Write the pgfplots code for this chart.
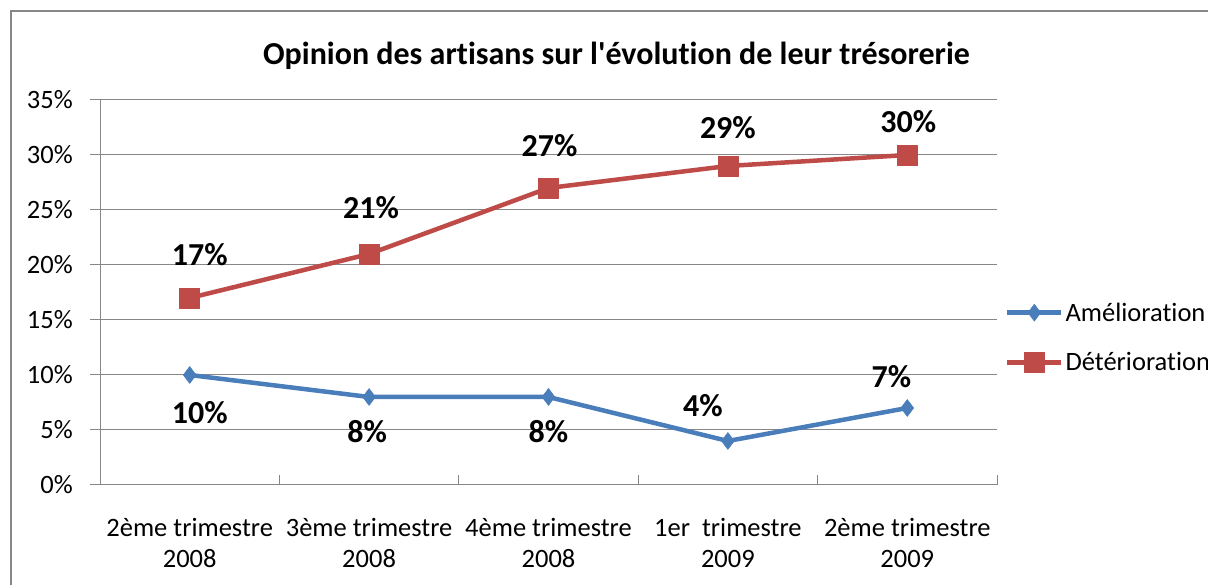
\documentclass[border=0pt]{standalone}
\usepackage{pgfplots}
\usepackage{pgfplotstable}
\pgfplotsset{compat=1.18}
\usepackage{fontspec}
\setmainfont[RawFeature={-liga;-calt;-clig}]{Carlito}
\definecolor{ablue}{HTML}{4A7EBB}
\definecolor{ared}{HTML}{BE4B48}
\definecolor{lgray}{HTML}{878787}

\pgfplotstableread{
x y dx dy
1 10 10 -38
2 8 -2 -35
3 8 0 -35
4 4 -25 35
5 7 -16 31
}\ameltab

\pgfplotstableread{
x y dx dy
1 17 10 43
2 21 2 46
3 27 1 42
4 29 0 38
5 30 1 33
}\dettab

\begin{document}
\begin{tikzpicture}[x=1pt,y=1pt]
\useasboundingbox (0,0) rectangle (1208,585);
\draw[lgray, line width=2.5pt] (11,-60) rectangle (1300,574);
\node[font=\bfseries\fontsize{32}{38}\selectfont, anchor=base] at (616.5,520) {Opinion des artisans sur l\textquotesingle évolution de leur trésorerie};
\begin{axis}[
  at={(100pt,100pt)}, anchor=south west,
  scale only axis, width=897pt, height=385pt,
  xmin=0.5, xmax=5.5, ymin=0, ymax=35,
  axis lines=left, axis line style={-, lgray, line width=1pt},
  clip=false,
  xtick={1,2,3,4,5},
  xticklabels={{2ème trimestre\\2008},{3ème trimestre\\2008},{4ème trimestre\\2008},{1er\ \ trimestre\\2009},{2ème trimestre\\2009}},
  minor xtick={0.5,1.5,2.5,3.5,4.5,5.5},
  ytick={0,5,...,35},
  yticklabel={\pgfmathprintnumber{\tick}\%},
  /pgf/number format/assume math mode=true,
  tick align=inside,
  major tick length=10pt, minor tick length=10pt,
  major x tick style={draw=none},
  minor x tick style={lgray, line width=1pt},
  major y tick style={lgray, line width=1pt, xshift=-10pt},
  ymajorgrids, grid style={lgray, line width=1pt},
  ticklabel style={font=\fontsize{26.5}{31}\selectfont, text=black},
  yticklabel style={anchor=east, inner sep=0pt, xshift=-27pt},
  xticklabel style={align=center, anchor=north, inner sep=0pt, yshift=-33pt},
  legend style={at={(1.009,0.383)}, anchor=west, draw=none, fill=none,
    inner sep=0pt, outer sep=0pt, row sep=26pt,
    font=\fontsize{26.5}{31}\selectfont,
    nodes={inner sep=2pt, anchor=west}},
  legend cell align=left,
  legend image code/.code={\draw[mark repeat=2,mark phase=2] plot coordinates {(0pt,0pt) (27pt,0pt) (54pt,0pt)};},
  nodes near coords={\pgfmathprintnumber{\pgfplotspointmeta}\%},
  point meta=y,
]
\addplot[ablue, line width=4.5pt, line join=round, mark=diamond*, mark size=8.5pt,
  mark options={fill=ablue, draw=ablue, line width=0.5pt},
  visualization depends on={\thisrow{dx}\as\ldx},
  visualization depends on={\thisrow{dy}\as\ldy},
  nodes near coords style={font=\bfseries\fontsize{32}{38}\selectfont, text=black, anchor=center, xshift=\ldx pt, yshift=\ldy pt}]
  table[x=x,y=y] {\ameltab};
\addlegendentry{Amélioration}
\addplot[ared, line width=4.5pt, line join=round, mark=square*, mark size=10pt,
  mark options={fill=ared, draw=ared, line width=0.5pt},
  visualization depends on={\thisrow{dx}\as\ldx},
  visualization depends on={\thisrow{dy}\as\ldy},
  nodes near coords style={font=\bfseries\fontsize{32}{38}\selectfont, text=black, anchor=center, xshift=\ldx pt, yshift=\ldy pt}]
  table[x=x,y=y] {\dettab};
\addlegendentry{Détérioration}
\end{axis}
\end{tikzpicture}
\end{document}
